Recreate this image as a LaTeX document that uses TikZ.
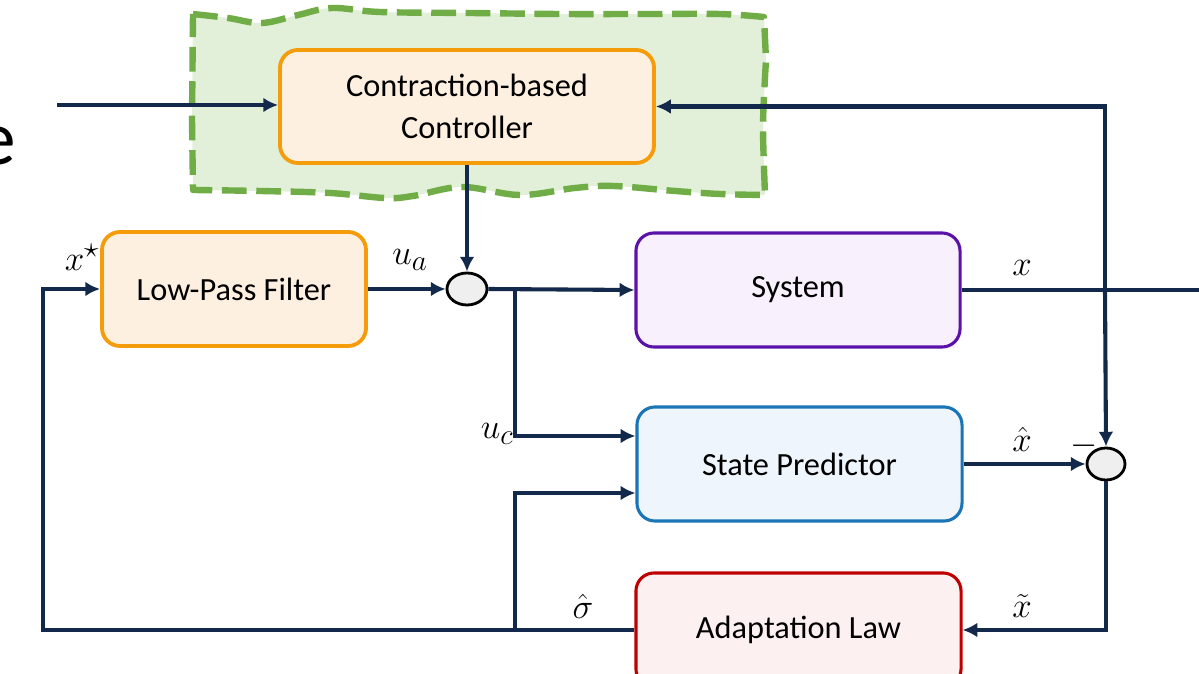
\documentclass[tikz,border=0pt]{standalone}
\usepackage{fontspec}
\usetikzlibrary{arrows.meta,shapes.geometric,calc}
\newfontfamily\boxfont{Carlito}

\definecolor{navy}{HTML}{13294B}
\definecolor{ctrlorange}{HTML}{F49C0A}
\definecolor{ctrlfill}{HTML}{FDF0E0}
\definecolor{syspurple}{HTML}{5A12A8}
\definecolor{sysfill}{HTML}{F8F0FD}
\definecolor{predblue}{HTML}{1A74B6}
\definecolor{predfill}{HTML}{EEF5FD}
\definecolor{adaptred}{HTML}{C00000}
\definecolor{adaptfill}{HTML}{FDF0F0}
\definecolor{regiongreen}{HTML}{70AD47}
\definecolor{regionfill}{HTML}{E2EFD9}
\definecolor{sumfill}{HTML}{EFEFEF}

\tikzset{
  block/.style={draw, rounded corners=0.45cm, line width=2.2pt, align=center,
    font=\boxfont\fontsize{23}{28}\selectfont, inner sep=0pt},
  orangeblock/.style={block, line width=2.7pt, draw=ctrlorange, fill=ctrlfill},
  sumnode/.style={ellipse, draw=black, fill=sumfill, line width=2pt,
    minimum width=1cm, minimum height=0.8cm, inner sep=0pt},
  sig/.style={line width=2.9pt, draw=navy},
  arr/.style={sig, -{Latex[length=0.37cm,width=0.37cm]}},
  lbl/.style={font=\fontsize{30}{34}\selectfont, inner sep=0pt},
}

\begin{document}
\begin{tikzpicture}[x=0.025cm,y=-0.025cm]
\useasboundingbox (0,0) rectangle (1199,674);
\clip (0,0) rectangle (1199,674);

% wavy dashed region around the controller
\path[fill=regionfill, draw=regiongreen, line width=0.16cm,
      dash pattern=on 0.62cm off 0.24cm, line join=round]
  plot[smooth, tension=0.6] coordinates {(193,14) (228,18) (262,23) (298,15) (332,8) (380,12) (470,13) (560,14) (650,14) (720,14) (764,17)}
  -- plot[smooth] coordinates {(766,60) (763,125) (765,194)}
  -- plot[smooth, tension=0.6] coordinates {(765,195) (720,194) (675,191) (613,186) (575,188) (520,195) (462,187) (413,196) (385,198) (330,193) (260,191) (193,190)}
  -- plot[smooth] coordinates {(192,120) (193,14)}
  -- cycle;

% cut-off word at the left margin
\node[font=\boxfont\fontsize{55}{60}\selectfont, inner sep=0pt] (word) at (-3,146) {e};

% blocks
\node[orangeblock, minimum width=9.35cm, minimum height=2.825cm] (ctrl) at (467,106.5) {Contraction-based\\[2pt]Controller};
\node[orangeblock, minimum width=6.6cm, minimum height=2.85cm] (lpf) at (234,289) {Low-Pass Filter};
\node[block, draw=syspurple, fill=sysfill, minimum width=8.1cm, minimum height=2.85cm] (sys) at (798,290) {\raisebox{-3pt}{System}};
\node[block, draw=predblue, fill=predfill, minimum width=8.125cm, minimum height=2.85cm] (sp) at (799.5,464) {State Predictor};
\node[block, draw=adaptred, fill=adaptfill, minimum width=8.125cm, minimum height=2.85cm] (al) at (798.5,630) {\raisebox{-2pt}{Adaptation Law}};

% summing junctions
\node[sumnode] (sum1) at (467,289) {};
\node[sumnode, minimum width=0.95cm] (sum2) at (1106,464) {};

% helper points
\coordinate (ref) at (57,105);
\coordinate (tap) at (1105,290);
\coordinate (out) at (1210,290);
\coordinate (br1) at (515,289);
\coordinate (br2) at (515,630);
\coordinate (lc) at (43,630);

% connectors
\draw[arr] (ref) -- (ref -| ctrl.west);
\draw[arr] (tap) |- (ctrl.east);
\draw[arr] (tap) -- (sum2.north);
\draw[arr] (ctrl.south) -- (sum1.north);
\draw[arr] (lpf.east) -- (sum1.west);
\draw[arr] (sum1.east) -- (sys.west);
\draw[arr] (br1) |- ([yshift=0.7cm]sp.west);
\draw[sig] (sys.east) -- (out);
\draw[arr] (sp.east) -- (sum2.west);
\draw[arr] (sum2.south) |- (al.east);
\draw[arr] (al.west) -- (lc) |- (lpf.west);
\draw[arr] (br2) |- ([yshift=-0.725cm]sp.west);

% signal labels
\node[lbl] (lxs) at (82,257) {$x^{\star}$};
\node[lbl] (lua) at (410,260) {$u_a$};
\node[lbl] (luc) at (497,434) {$u_c$};
\node[lbl] (lx) at (1022,268) {$x$};
\node[lbl] (lxh) at (1022,439) {$\hat{x}$};
\node[lbl] (lmin) at (1084,446) {$-$};
\node[lbl] (lxt) at (1022,606) {$\tilde{x}$};
\node[lbl] (lsig) at (583,606) {$\hat{\sigma}$};
\end{tikzpicture}
\end{document}
